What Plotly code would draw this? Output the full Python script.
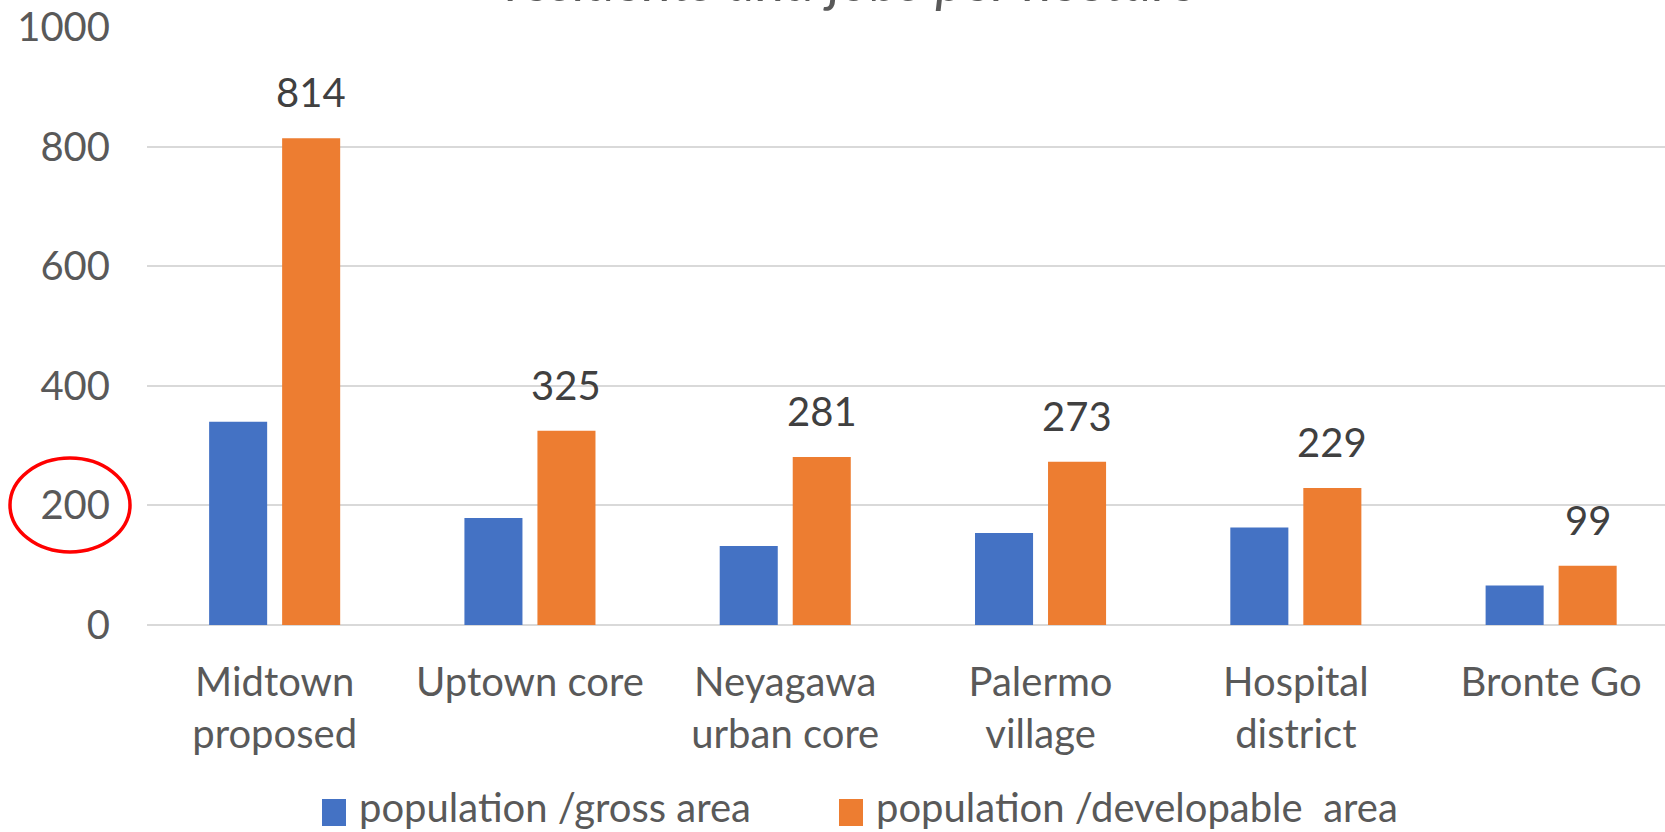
import plotly.graph_objects as go

categories = ["Midtown<br>proposed", "Uptown core", "Neyagawa<br>urban core",
              "Palermo<br>village", "Hospital<br>district", "Bronte Go"]
gross_area = [340, 179, 132, 154, 163, 66]
developable_area = [814, 325, 281, 273, 229, 99]
series_names = ["population /gross area", "population /developable  area"]
series_colors = ["#4472C4", "#ED7D31"]
y_ticks = [0, 200, 400, 600, 800, 1000]
title_text = "residents and jobs per hectare"

FONT = "Lato"
W, H = 1665, 832
ML, MR, MT, MB = 147, 0, 27, 207
PH = H - MT - MB
PW = W - ML - MR


def py(pix):
    return 1 - (pix - MT) / PH


def px_(pix):
    return (pix - ML) / PW


fig = go.Figure()
fig.add_trace(go.Bar(x=categories, y=gross_area, name=series_names[0],
                     marker=dict(color=series_colors[0], line=dict(width=0))))
fig.add_trace(go.Bar(x=categories, y=developable_area, name=series_names[1],
                     marker=dict(color=series_colors[1], line=dict(width=0))))

# data labels on the orange series
for c, v in zip(categories, developable_area):
    fig.add_annotation(x=c, y=v, text=str(v), showarrow=False,
                       xshift=36.5, yshift=46, yanchor="middle",
                       font=dict(family=FONT, size=40, color="#404040"))

# title (cut off at the top, as in the reference)
fig.add_annotation(xref="paper", yref="paper", x=px_(852), y=py(-20),
                   text="<i>" + title_text + "</i>", showarrow=False,
                   xanchor="center", yanchor="middle",
                   font=dict(family=FONT, size=56, color="#595959"))

# red ellipse around the 200 tick label
fig.add_shape(type="circle", xref="paper", yref="paper",
              x0=px_(10), x1=px_(130), y0=py(458), y1=py(552),
              line=dict(color="#FF0000", width=3.5))

# custom legend (large keys as in the reference)
legend_key_x = [322, 839]
for name, col, kx in zip(series_names, series_colors, legend_key_x):
    fig.add_shape(type="rect", xref="paper", yref="paper",
                  x0=px_(kx), x1=px_(kx + 24), y0=py(799), y1=py(826),
                  fillcolor=col, line=dict(width=0))
    fig.add_annotation(xref="paper", yref="paper", x=px_(kx + 35), y=py(807),
                       text=name, showarrow=False, xanchor="left", yanchor="middle",
                       font=dict(family=FONT, size=40, color="#595959"))

fig.update_layout(
    width=W, height=H,
    margin=dict(l=ML, r=MR, t=MT, b=MB, pad=0),
    paper_bgcolor="white", plot_bgcolor="white",
    barmode="group", bargap=0.428, bargroupgap=0.205,
    font=dict(family=FONT, size=40, color="#595959"),
    showlegend=False,
    xaxis=dict(range=[-0.5, 5.446], showgrid=False, showline=False, zeroline=False,
               ticks="", ticklabelstandoff=30,
               tickfont=dict(family=FONT, size=40, color="#595959")),
    yaxis=dict(range=[0, 1000], tickvals=y_ticks, showgrid=True,
               gridcolor="#D9D9D9", gridwidth=2, zeroline=True,
               zerolinecolor="#D9D9D9", zerolinewidth=2, showline=False,
               ticks="", ticklabelstandoff=36,
               tickfont=dict(family=FONT, size=40, color="#595959")),
)

fig.write_html("out.html",
               config={"displayModeBar": False},
               post_script="document.body.style.margin='0';document.body.style.overflow='hidden';")
